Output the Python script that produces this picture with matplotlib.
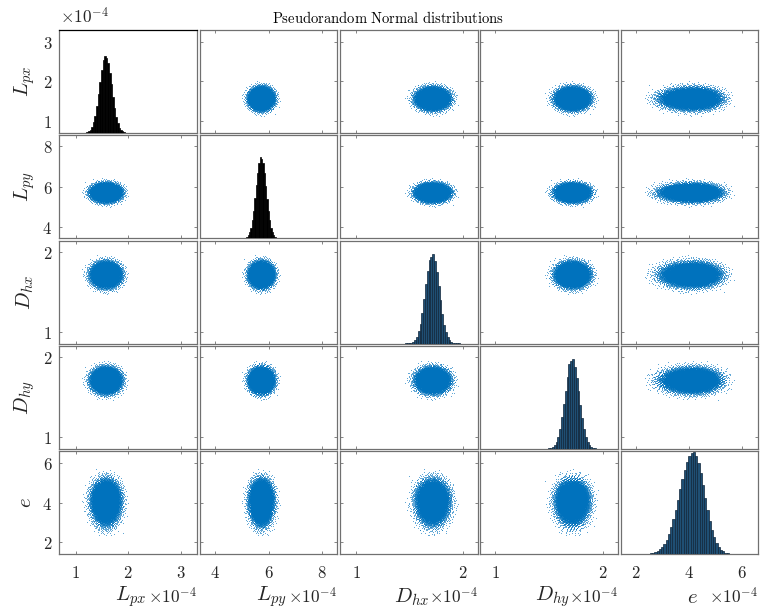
import numpy as np
import matplotlib
matplotlib.use("Agg")
import matplotlib.pyplot as plt
from matplotlib.ticker import FuncFormatter

plt.rcParams['mathtext.fontset'] = 'cm'

# ---------------- data (values in units of 1e-4) ----------------
var_labels = [r'$L_{px}$', r'$L_{py}$', r'$D_{hx}$', r'$D_{hy}$', r'$e$']
axis_limits = [(0.69, 3.31), (3.43, 8.56), (0.85, 2.14), (0.86, 2.14), (1.42, 6.60)]
tick_values = [[1, 2, 3], [4, 6, 8], [1, 2], [1, 2], [2, 4, 6]]

# histogram bin ranges and relative bin heights (peak = 100)
lpx_edges = (1.115, 2.035)
lpx_counts = [0.1, 0.2, 0.4, 1, 2, 4, 8, 14, 22, 35, 50, 66, 82, 94, 100,
              97, 90, 78, 63, 47, 33, 21, 13, 7, 4, 2, 0.8, 0.4, 0.1, 0.05]
lpy_edges = (4.98, 6.46)
lpy_counts = [0.05, 0.15, 0.4, 0.9, 2, 4, 7.5, 13, 22, 34, 49, 65, 80, 93, 100,
              98, 93, 80, 64, 48, 34, 22, 13, 7.5, 4, 2, 0.9, 0.4, 0.15, 0.05]
dhx_edges = (1.460, 1.972)
dhx_counts = [0.05, 0.15, 0.4, 0.9, 2, 4, 7.7, 13.5, 22, 34, 50, 66, 81, 93, 97,
              100, 92, 80, 64, 48, 33, 21, 13, 7.5, 4, 2, 0.9, 0.4, 0.15, 0.05]
dhy_edges = (1.458, 1.970)
dhy_counts = [0.05, 0.15, 0.4, 0.9, 2, 4, 7.7, 13.5, 22, 35, 50, 65, 80, 95, 98,
              100, 91, 79, 64, 49, 34, 22, 13, 7.5, 4, 2, 0.9, 0.4, 0.15, 0.05]
e_edges = (2.35, 5.75)
e_counts = [0.2, 0.38, 0.67, 1.1, 1.85, 2.9, 4.6, 6.9, 10, 14.2, 19.6, 26.3, 34.2,
            43.2, 53.1, 63.4, 73.5, 82.8, 90.6, 96.3, 99.4, 99.7, 96.2, 89.0, 79.1,
            67.5, 55.2, 43.4, 32.8, 23.7, 16.5, 11.0, 7.0, 4.3, 2.55, 1.45, 0.78,
            0.41, 0.21, 0.1]

hist_edges = [lpx_edges, lpy_edges, dhx_edges, dhy_edges, e_edges]
hist_counts = [lpx_counts, lpy_counts, dhx_counts, dhy_counts, e_counts]
hist_peak_fraction = [0.75, 0.79, 0.87, 0.87, 0.99]
n_points = 20000
halton_bases = [2, 3, 5, 7, 11]

# ---------------- style ----------------
hist_face = ['black', 'black', '#1f4f74', '#1f4f74', '#1f4f74']
hist_edge = ['black', 'black', '#10263a', '#10263a', '#10263a']
scatter_color = '#0072BD'
spine_color = '#707070'
text_color = '#262626'


def radical_inverse(idx, base):
    res = np.zeros(idx.shape, dtype=float)
    f = 1.0 / base
    i = idx.copy()
    while np.any(i > 0):
        res += f * (i % base)
        i //= base
        f /= base
    return res


def samples_from_hist(edges, counts, u):
    counts = np.asarray(counts, dtype=float)
    e = np.linspace(edges[0], edges[1], len(counts) + 1)
    cdf = np.concatenate([[0.0], np.cumsum(counts)])
    cdf /= cdf[-1]
    return np.interp(u, cdf, e)


idx = np.arange(1, n_points + 1)
samples = [samples_from_hist(hist_edges[k], hist_counts[k], radical_inverse(idx, halton_bases[k]))
           for k in range(5)]

W, H = 764, 614
fig = plt.figure(figsize=(W / 100, H / 100), dpi=100)


def pos(r, c):
    x0 = 59.3 + c * 140.35
    y0 = 30 + r * 105.25
    return [x0 / W, 1 - (y0 + 103) / H, 137.5 / W, 103 / H]


fmt = FuncFormatter(lambda v, p: r'$%g$' % v)

for r in range(5):
    for c in range(5):
        ax = fig.add_axes(pos(r, c))
        ax.set_xlim(axis_limits[c])
        ax.set_ylim(axis_limits[r])
        ax.set_xticks(tick_values[c])
        ax.set_yticks(tick_values[r])
        ax.xaxis.set_major_formatter(fmt)
        ax.yaxis.set_major_formatter(fmt)
        ax.tick_params(direction='in', length=2.5, width=0.6, color=spine_color,
                       top=True, right=True, labelbottom=(r == 4), labelleft=(c == 0),
                       labelsize=12, labelcolor=text_color)
        ax.tick_params(axis='x', pad=7)
        ax.tick_params(axis='y', pad=5)
        for s in ax.spines.values():
            s.set_color(spine_color)
            s.set_linewidth(0.9)
        if r == c:
            ax.tick_params(length=0)
            tw = ax.twinx()
            cnt = np.asarray(hist_counts[c], dtype=float)
            e = np.linspace(hist_edges[c][0], hist_edges[c][1], len(cnt) + 1)
            tw.bar(e[:-1], cnt, width=np.diff(e), align='edge', color=hist_face[c],
                   edgecolor=hist_edge[c], linewidth=0.5)
            tw.set_ylim(0, 100 / hist_peak_fraction[c])
            tw.axis('off')
            if r == 0:
                ax.spines['top'].set_color('black')
        else:
            ax.plot(samples[c], samples[r], '.', ms=1.0, mew=0, color=scatter_color)

# axis labels
for k in range(5):
    p = pos(k, k)
    cx = p[0] + p[2] / 2 + 3 / W
    fig.text(cx, 1 - 597 / H, var_labels[k], ha='center', va='center', fontsize=15,
             color=text_color)
    fig.text(p[0] + p[2], 1 - 597 / H, r'$\times10^{-4}$', ha='right', va='center',
             fontsize=12.5, color=text_color)
    cy = p[1] + p[3] / 2
    fig.text(25 / W, cy, var_labels[k], ha='center', va='center', rotation=90,
             fontsize=15, color=text_color)

fig.text(60 / W, 1 - 17 / H, r'$\times10^{-4}$', ha='left', va='center', fontsize=12.5,
         color=text_color)
fig.text(388 / W, 1 - 18 / H, r'$\mathrm{Pseudorandom\ Normal\ distributions}$',
         ha='center', va='center', fontsize=10.5, color='black')

fig.savefig('out.png', dpi=100)
